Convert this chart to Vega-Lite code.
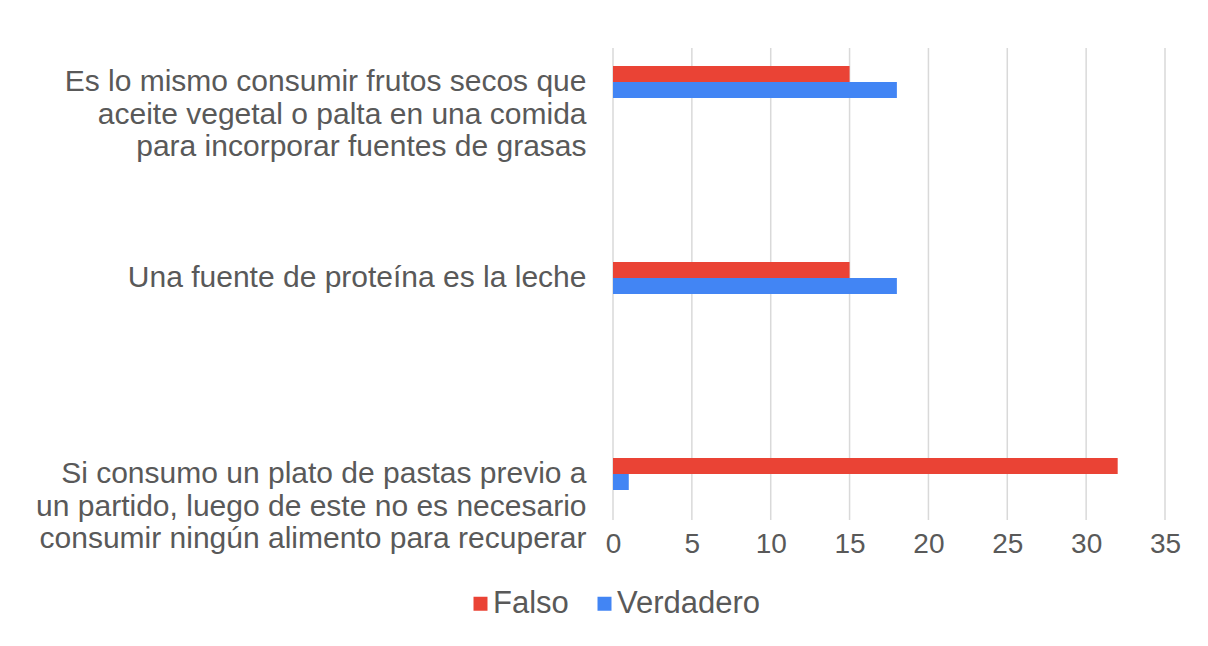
{
  "$schema": "https://vega.github.io/schema/vega-lite/v6.json",
  "autosize": "none",
  "width": 552,
  "height": 472,
  "padding": {"left": 613, "top": 48, "right": 43, "bottom": 126},
  "background": "white",
  "datasets": {
    "respuestas": [
      {"pregunta": "Es lo mismo consumir frutos secos que\naceite vegetal o palta en una comida\npara incorporar fuentes de grasas", "respuesta": "Falso", "cantidad": 15},
      {"pregunta": "Es lo mismo consumir frutos secos que\naceite vegetal o palta en una comida\npara incorporar fuentes de grasas", "respuesta": "Verdadero", "cantidad": 18},
      {"pregunta": "Una fuente de proteína es la leche", "respuesta": "Falso", "cantidad": 15},
      {"pregunta": "Una fuente de proteína es la leche", "respuesta": "Verdadero", "cantidad": 18},
      {"pregunta": "Si consumo un plato de pastas previo a\nun partido, luego de este no es necesario\nconsumir ningún alimento para recuperar", "respuesta": "Falso", "cantidad": 32},
      {"pregunta": "Si consumo un plato de pastas previo a\nun partido, luego de este no es necesario\nconsumir ningún alimento para recuperar", "respuesta": "Verdadero", "cantidad": 1}
    ],
    "marcas": [
      {"cantidad": 0}, {"cantidad": 5}, {"cantidad": 10}, {"cantidad": 15},
      {"cantidad": 20}, {"cantidad": 25}, {"cantidad": 30}, {"cantidad": 35}
    ]
  },
  "layer": [
    {
      "data": {"name": "marcas"},
      "mark": {"type": "rule", "color": "#d9d9d9", "strokeWidth": 1.5},
      "encoding": {
        "x": {"field": "cantidad", "type": "quantitative"}
      }
    },
    {
      "data": {"name": "respuestas"},
      "mark": {"type": "bar"},
      "encoding": {
        "y": {
          "field": "pregunta",
          "type": "nominal",
          "sort": null,
          "scale": {"range": [-64, 524], "paddingInner": 0, "paddingOuter": 0},
          "axis": {
            "title": null,
            "domain": false,
            "ticks": false,
            "grid": false,
            "labelExpr": "split(datum.label, '\\n')",
            "labelFont": "Liberation Sans",
            "labelFontSize": 30,
            "labelColor": "#595959",
            "labelLineHeight": 32.5,
            "labelPadding": 27,
            "labelAlign": "right",
            "labelBaseline": "middle",
            "labelLimit": 700
          }
        },
        "yOffset": {
          "field": "respuesta",
          "type": "nominal",
          "sort": ["Falso", "Verdadero"],
          "scale": {"range": [82, 114]}
        },
        "x": {
          "field": "cantidad",
          "type": "quantitative",
          "scale": {"domain": [0, 35], "nice": false},
          "axis": {
            "title": null,
            "values": [0, 5, 10, 15, 20, 25, 30, 35],
            "domain": false,
            "ticks": false,
            "grid": false,
            "labelFlush": false,
            "labelFont": "Liberation Sans",
            "labelFontSize": 28,
            "labelColor": "#595959",
            "labelPadding": 10
          }
        },
        "color": {
          "field": "respuesta",
          "type": "nominal",
          "scale": {"domain": ["Falso", "Verdadero"], "range": ["#EA4335", "#4285F4"]},
          "legend": {
            "title": null,
            "orient": "none",
            "direction": "horizontal",
            "legendX": -148,
            "legendY": 540,
            "symbolType": "square",
            "symbolSize": 196,
            "symbolStrokeWidth": 0,
            "symbolOpacity": 1,
            "labelFont": "Liberation Sans",
            "labelFontSize": 31,
            "labelColor": "#595959",
            "labelOffset": -3,
            "columnPadding": 20
          }
        }
      }
    }
  ],
  "config": {"view": {"stroke": null}}
}
